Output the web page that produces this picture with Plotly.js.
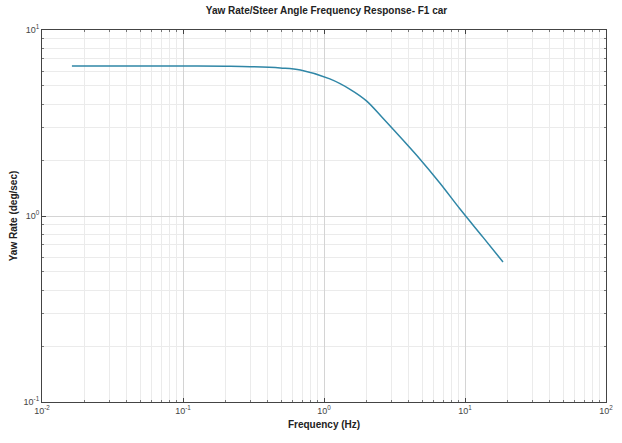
<!DOCTYPE html>
<html>
<head>
<meta charset="utf-8">
<script src="https://cdn.plot.ly/plotly-3.0.1.min.js"></script>
<style>html,body{margin:0;padding:0;background:#fff;}#chart{width:622px;height:443px;}</style>
</head>
<body>
<div id="chart"></div>
<script>
// Values
const freqHz = [0.0163, 0.05, 0.1, 0.2, 0.3, 0.49, 0.68, 1.1, 1.53, 2.0, 2.62, 3.63, 4.80, 6.65, 9.22, 13.4, 18.6];
const yawRate = [6.40, 6.40, 6.40, 6.38, 6.35, 6.25, 6.10, 5.46, 4.80, 4.16, 3.35, 2.56, 2.02, 1.50, 1.09, 0.77, 0.566];
const xTickVals = [0.01, 0.1, 1, 10, 100];
const xTickText = ['10<sup>-2</sup>', '10<sup>-1</sup>', '10<sup>0</sup>', '10<sup>1</sup>', '10<sup>2</sup>'];
const yTickVals = [0.1, 1, 10];
const yTickText = ['10<sup>-1</sup>', '10<sup>0</sup>', '10<sup>1</sup>'];

const axisCommon = {
  type: 'log',
  showline: true, linecolor: '#444', linewidth: 1, mirror: 'ticks',
  ticks: 'inside', ticklen: 4, tickcolor: '#444',
  showgrid: true, gridcolor: '#d4d4d4', gridwidth: 1,
  minor: {tickmode: 'linear', dtick: 'D1', showgrid: true, gridcolor: '#ebebeb', ticks: 'inside', ticklen: 2, tickcolor: '#777'},
  zeroline: false,
  tickfont: {family: 'Liberation Sans, Arial, sans-serif', size: 9, color: '#444'}
};

const trace = {
  x: freqHz, y: yawRate, type: 'scatter', mode: 'lines',
  line: {color: '#2f86a6', width: 1.5, shape: 'spline', smoothing: 1},
  hoverinfo: 'skip'
};

const layout = {
  width: 622, height: 443,
  margin: {l: 42, r: 16, t: 30, b: 41},
  paper_bgcolor: '#fff', plot_bgcolor: '#fff',
  showlegend: false,
  title: {text: '<b>Yaw Rate/Steer Angle Frequency Response- F1 car</b>', x: 0.525, xanchor: 'center', y: 0.985, yanchor: 'top',
          font: {family: 'Liberation Sans, Arial, sans-serif', size: 10, color: '#222'}},
  xaxis: Object.assign({}, axisCommon, {
    range: [-2, 2], tickmode: 'array', tickvals: xTickVals, ticktext: xTickText,
    title: {text: '<b>Frequency (Hz)</b>', standoff: 6, font: {family: 'Liberation Sans, Arial, sans-serif', size: 10, color: '#222'}}
  }),
  yaxis: Object.assign({}, axisCommon, {
    range: [-1, 1], tickmode: 'array', tickvals: yTickVals, ticktext: yTickText,
    title: {text: '<b>Yaw Rate (deg/sec)</b>', standoff: 4, font: {family: 'Liberation Sans, Arial, sans-serif', size: 10, color: '#222'}}
  })
};

Plotly.newPlot('chart', [trace], layout, {staticPlot: true, displayModeBar: false});
</script>
</body>
</html>
